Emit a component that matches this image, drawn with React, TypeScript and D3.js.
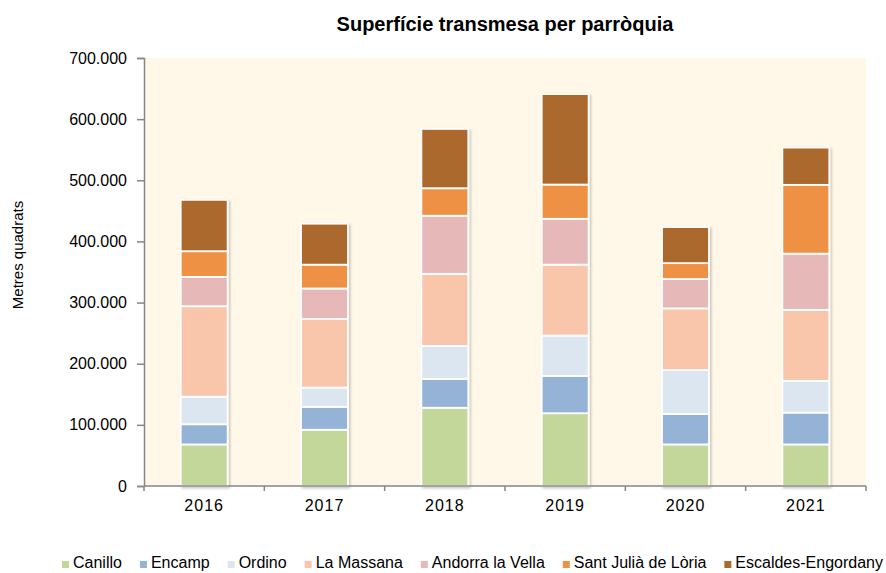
import { useEffect, useRef } from "react";
import * as d3 from "d3";

const years = ["2016", "2017", "2018", "2019", "2020", "2021"];
const parishes = [
  "Canillo",
  "Encamp",
  "Ordino",
  "La Massana",
  "Andorra la Vella",
  "Sant Julià de Lòria",
  "Escaldes-Engordany",
];
const colors = ["#c4d79b", "#95b3d7", "#dce6f1", "#fac6ab", "#e6b8b7", "#ee9145", "#ab692e"];

// metres quadrats per parish, one value per year
const canillo = [68000, 92000, 128000, 119000, 68000, 68000];
const encamp = [33000, 37500, 47000, 61000, 50000, 52000];
const ordino = [45000, 31500, 54000, 66000, 71500, 52000];
const laMassana = [148000, 112000, 118000, 116000, 101000, 116000];
const andorra = [48000, 50000, 95000, 75000, 48000, 92000];
const santJulia = [42000, 39000, 45000, 56000, 26000, 112500];
const escaldes = [84000, 67000, 97000, 148000, 59000, 61000];

const series = [canillo, encamp, ordino, laMassana, andorra, santJulia, escaldes];
const yTicks = [0, 100000, 200000, 300000, 400000, 500000, 600000, 700000];

const W = 886;
const H = 573;
const margin = { top: 58, right: 20, bottom: 87, left: 144 };
const font = "'Liberation Sans', Arial, sans-serif";

export default function App() {
  const svgRef = useRef<SVGSVGElement>(null);

  useEffect(() => {
    if (!svgRef.current) return;
    const svg = d3.select(svgRef.current);
    svg.selectAll("*").remove();

    const innerW = W - margin.left - margin.right;
    const innerH = H - margin.top - margin.bottom;

    const rows = years.map((y, i) => {
      const r: Record<string, number | string> = { year: y };
      parishes.forEach((p, j) => (r[p] = series[j][i]));
      return r;
    });
    const stacked = d3.stack<Record<string, number | string>>().keys(parishes)(rows as any);

    const x = d3.scaleBand().domain(years).range([0, innerW]).paddingInner(0.61).paddingOuter(0.305);
    const bands = d3.scaleBand().domain(years).range([0, innerW]);
    const y = d3.scaleLinear().domain([0, 700000]).range([innerH, 0]);

    const defs = svg.append("defs");
    const f = defs.append("filter").attr("id", "shadow").attr("x", "-20%").attr("y", "-20%").attr("width", "140%").attr("height", "140%");
    f.append("feDropShadow").attr("dx", 1.5).attr("dy", 1.5).attr("stdDeviation", 1.2).attr("flood-color", "#000").attr("flood-opacity", 0.22);

    svg.append("text")
      .attr("x", 505)
      .attr("y", 31)
      .attr("text-anchor", "middle")
      .attr("font-family", font)
      .attr("font-weight", "bold")
      .attr("font-size", 20)
      .attr("fill", "#000")
      .text("Superfície transmesa per parròquia");

    const g = svg.append("g").attr("transform", `translate(${margin.left},${margin.top})`);

    g.append("rect").attr("width", innerW).attr("height", innerH).attr("fill", "#fff7e8");

    const layer = g.append("g").attr("filter", "url(#shadow)");
    stacked.forEach((s, j) => {
      layer.append("g")
        .attr("fill", colors[j])
        .selectAll("rect")
        .data(s)
        .join("rect")
        .attr("x", (d) => x(d.data.year as string)!)
        .attr("width", x.bandwidth())
        .attr("y", (d) => y(d[1]))
        .attr("height", (d) => y(d[0]) - y(d[1]))
        .attr("stroke", "#fff")
        .attr("stroke-width", 1.8);
    });

    // y axis
    const yAxis = g.append("g").call(d3.axisLeft(y).tickValues(yTicks).tickSize(7).tickPadding(10)
      .tickFormat((d) => d3.format(",")(d as number).replace(/,/g, ".")));
    yAxis.select(".domain").attr("stroke", "#868686").attr("stroke-width", 1.5);
    yAxis.selectAll(".tick line").attr("stroke", "#868686").attr("stroke-width", 1.5);
    yAxis.selectAll("text").attr("font-family", font).attr("font-size", 16).attr("fill", "#000");

    // x axis
    const xg = g.append("g").attr("transform", `translate(0,${innerH})`);
    xg.append("line").attr("x1", 0).attr("x2", innerW).attr("stroke", "#868686").attr("stroke-width", 1.5);
    xg.selectAll("line.tk")
      .data([...years.map((yy) => bands(yy)!), innerW])
      .join("line")
      .attr("class", "tk")
      .attr("x1", (d) => d).attr("x2", (d) => d)
      .attr("y1", 0).attr("y2", 5)
      .attr("stroke", "#868686").attr("stroke-width", 1.5);
    xg.selectAll("text")
      .data(years)
      .join("text")
      .attr("x", (d) => bands(d)! + bands.bandwidth() / 2)
      .attr("y", 25)
      .attr("text-anchor", "middle")
      .attr("font-family", font)
      .attr("font-size", 16)
      .attr("letter-spacing", 1)
      .attr("fill", "#000")
      .text((d) => d);

    svg.append("text")
      .attr("transform", `translate(23,255) rotate(-90)`)
      .attr("text-anchor", "middle")
      .attr("font-family", font)
      .attr("font-size", 15)
      .attr("fill", "#000")
      .text("Metres quadrats");

    // legend
    const leg = svg.append("g").attr("transform", `translate(62,568)`);
    let cx = 0;
    parishes.forEach((p, j) => {
      const it = leg.append("g").attr("transform", `translate(${cx},0)`);
      it.append("rect").attr("x", 0).attr("y", -7).attr("width", 7).attr("height", 7).attr("fill", colors[j]);
      const t = it.append("text")
        .attr("x", 11)
        .attr("font-family", font)
        .attr("font-size", 16)
        .attr("fill", "#000")
        .text(p);
      const len = (t.node() as SVGTextElement).getComputedTextLength();
      cx += 11 + len + 18;
    });
  }, []);

  return (
    <svg ref={svgRef} width={W} height={H} style={{ display: "block", position: "absolute", left: 0, top: 0, background: "#fff" }} />
  );
}
